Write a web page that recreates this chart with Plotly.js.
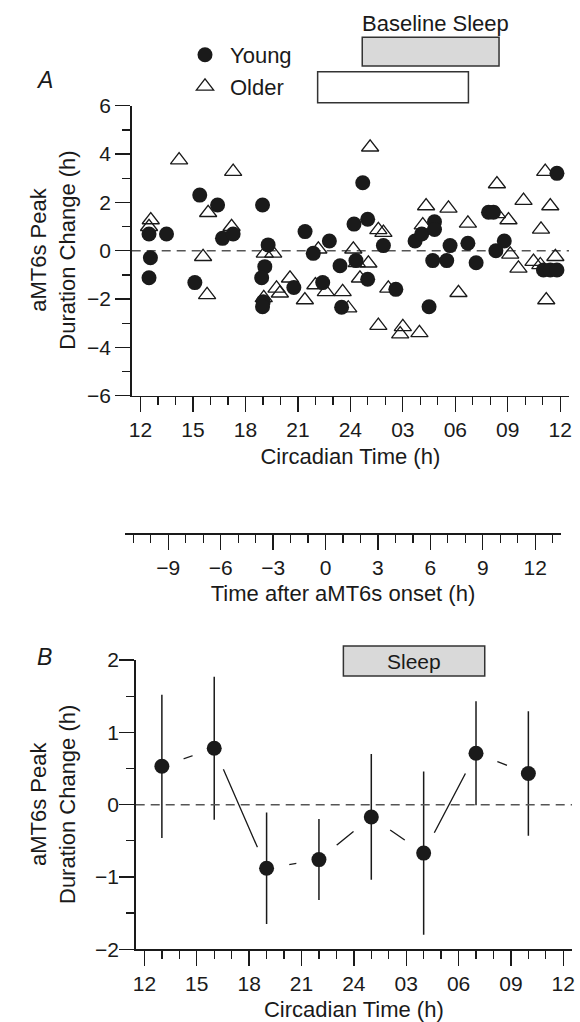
<!DOCTYPE html>
<html><head><meta charset="utf-8">
<script src="https://cdn.plot.ly/plotly-3.0.1.min.js"></script>
<style>html,body{margin:0;padding:0;background:#fff}#chart{width:580px;height:1022px}</style>
</head><body><div id="chart"></div>
<script>
// ---------- data ----------
const youngCT = [12.49,12.57,12.49,13.49,15.39,15.11,16.41,16.69,17.30,18.98,19.30,19.11,18.93,19.02,18.98,21.41,21.88,22.80,22.42,20.77,23.41,23.50,24.21,24.71,24.99,24.32,25.89,24.99,26.60,27.70,28.08,28.81,28.81,28.71,29.51,29.70,28.50,30.72,31.19,31.90,32.18,32.32,32.80,35.81,35.04,35.43,35.81];
const youngVal = [0.69,-0.29,-1.12,0.69,2.30,-1.32,1.89,0.51,0.69,1.89,0.24,-0.66,-1.12,-2.11,-2.32,0.79,-0.11,0.40,-1.32,-1.52,-0.62,-2.34,1.10,2.81,1.30,-0.41,0.21,-1.18,-1.60,0.40,0.69,1.20,0.88,-0.41,-0.41,0.21,-2.32,0.31,-0.50,1.59,1.59,0.00,0.40,3.20,-0.80,-0.80,-0.80];
const olderCT = [14.21,17.30,12.59,12.49,15.87,17.21,15.58,15.81,19.11,19.59,20.55,19.97,19.78,21.40,22.17,22.00,22.60,23.56,19.05,25.13,28.33,29.61,28.14,25.60,25.89,24.17,24.37,25.03,24.55,23.88,26.17,30.72,30.18,32.38,33.90,33.04,32.38,33.14,33.61,34.47,34.86,34.90,35.14,35.43,35.72,35.20,25.60,26.85,27.00,27.95];
const olderVal = [3.75,3.27,1.27,0.99,1.57,0.99,-0.25,-1.83,-0.11,-0.11,-1.14,-1.76,-1.56,-2.04,0.06,-1.42,-1.70,-1.70,-1.95,4.28,1.85,1.75,1.06,0.86,0.75,0.06,-0.50,-0.52,-1.14,-2.38,-1.56,1.13,-1.74,2.76,2.07,1.27,1.52,-0.15,-0.73,-0.45,-0.59,0.88,3.27,1.85,-0.25,-2.04,-3.10,-3.45,-3.15,-3.40];

const binCT = [13,16,19,22,25,28,31,34];
const binMean = [0.53,0.78,-0.88,-0.76,-0.17,-0.67,0.71,0.43];
const binSD = [0.99,0.99,0.77,0.56,0.87,1.13,0.72,0.86];

const ctTickVals = [12,15,18,21,24,27,30,33,36];
const ctTickText = ['12','15','18','21','24','03','06','09','12'];

const sleepYoung = [24.68,32.5];
const sleepOlder = [22.13,30.75];
const sleepB = [23.4,31.5];

// ---------- layout helpers ----------
const W = 580, H = 1022;
const px = v => v / W;
const py = v => 1 - v / H;
const FONT = '"Liberation Sans", Arial, Helvetica, sans-serif';
const INK = '#1a1a1a';

const minorTicks = {ticks:'outside', ticklen:8, tickwidth:1.3, tickcolor:INK, showgrid:false, tickmode:'linear', tick0:0};
function axis(extra){
  return Object.assign({
    showline:true, linecolor:INK, linewidth:1.5,
    ticks:'outside', ticklen:15, tickwidth:1.3, tickcolor:INK,
    showgrid:false, zeroline:false, fixedrange:true,
    tickfont:{family:FONT, size:21, color:INK}
  }, extra);
}
const titleFont = {family:FONT, size:22, color:INK};

const traces = [
  {type:'scatter', mode:'markers', name:'Older', x:olderCT, y:olderVal, xaxis:'x', yaxis:'y',
   marker:{symbol:'triangle-up-open', size:15, color:INK, line:{width:1.3, color:INK}}},
  {type:'scatter', mode:'markers', name:'Young', x:youngCT, y:youngVal, xaxis:'x', yaxis:'y',
   marker:{symbol:'circle', size:15, color:INK}},
  {type:'scatter', mode:'lines', x:binCT, y:binMean, xaxis:'x2', yaxis:'y2', showlegend:false,
   line:{color:INK, width:1.3}},
  {type:'scatter', mode:'markers', x:binCT, y:binMean, xaxis:'x2', yaxis:'y2', showlegend:false,
   marker:{size:46, color:'#ffffff'}},
  {type:'scatter', mode:'markers', x:binCT, y:binMean, xaxis:'x2', yaxis:'y2', showlegend:false,
   marker:{size:15, color:INK},
   error_y:{type:'data', array:binSD, visible:true, width:0, thickness:1.5, color:INK}},
  {type:'scatter', mode:'markers', x:[], y:[], xaxis:'x3', yaxis:'y3', showlegend:false}
];

const layout = {
  width:W, height:H, margin:{l:0,r:0,t:0,b:0},
  paper_bgcolor:'#fff', plot_bgcolor:'rgba(0,0,0,0)',
  font:{family:FONT, size:22, color:INK},
  hovermode:false,
  showlegend:true,
  legend:{x:px(180), y:py(34), xanchor:'left', yanchor:'top', traceorder:'reversed',
          font:{family:FONT, size:22, color:INK}, itemwidth:40, bgcolor:'rgba(0,0,0,0)', borderwidth:0},
  xaxis: axis({domain:[px(131.7), px(569)], range:[11.5,36.5], anchor:'y',
    tickmode:'array', tickvals:ctTickVals, ticktext:ctTickText,
    minor:Object.assign({dtick:1}, minorTicks),
    title:{text:'Circadian Time (h)', font:titleFont, standoff:8}}),
  yaxis: axis({domain:[py(395.7), py(105.7)], range:[-6,6], anchor:'x',
    tickmode:'linear', tick0:0, dtick:2, ticklabelstandoff:0,
    minor:Object.assign({dtick:1}, minorTicks)}),
  xaxis2: axis({domain:[px(135.7), px(572)], range:[11.5,36.5], anchor:'y2',
    tickmode:'array', tickvals:ctTickVals, ticktext:ctTickText,
    minor:Object.assign({dtick:1}, minorTicks),
    title:{text:'Circadian Time (h)', font:titleFont, standoff:8}}),
  yaxis2: axis({domain:[py(949.3), py(660)], range:[-2,2], anchor:'x2',
    tickmode:'linear', tick0:0, dtick:1, ticklabelstandoff:-4,
    minor:Object.assign({dtick:0.5}, minorTicks)}),
  xaxis3: axis({domain:[px(124.6), px(561.4)], range:[-11.5,13.5], anchor:'y3',
    tickmode:'linear', tick0:0, dtick:3,
    minor:Object.assign({dtick:1}, minorTicks),
    title:{text:'Time after aMT6s onset (h)', font:titleFont, standoff:8}}),
  yaxis3: {domain:[py(533), py(533)+0.001], range:[0,1], anchor:'x3', visible:false, fixedrange:true},
  shapes:[
    {type:'line', xref:'x', yref:'y', x0:11.5, x1:36.5, y0:0, y1:0, layer:'below',
     line:{color:'#555', width:1.5, dash:'9px,6px'}},
    {type:'line', xref:'x2', yref:'y2', x0:11.5, x1:36.5, y0:0, y1:0, layer:'above',
     line:{color:'#555', width:1.5, dash:'9px,6px'}},
    {type:'rect', xref:'x', yref:'paper', x0:sleepYoung[0], x1:sleepYoung[1], y0:py(66), y1:py(37.3),
     fillcolor:'#d9d9d9', line:{color:'#333', width:1.5}},
    {type:'rect', xref:'x', yref:'paper', x0:sleepOlder[0], x1:sleepOlder[1], y0:py(102.7), y1:py(71.7),
     fillcolor:'#ffffff', line:{color:'#333', width:1.5}},
    {type:'rect', xref:'x2', yref:'paper', x0:sleepB[0], x1:sleepB[1], y0:py(676), y1:py(646),
     fillcolor:'#d9d9d9', line:{color:'#333', width:1.5}}
  ],
  annotations:[
    {text:'Baseline Sleep', xref:'x', yref:'paper', x:28.85, y:py(23), xanchor:'center', yanchor:'middle',
     showarrow:false, font:titleFont},
    {text:'Sleep', xref:'x2', yref:'paper', x:(sleepB[0]+sleepB[1])/2, y:py(661), xanchor:'center', yanchor:'middle',
     showarrow:false, font:{family:FONT, size:21, color:INK}},
    {text:'<i>A</i>', xref:'paper', yref:'paper', x:px(44), y:py(80), xanchor:'center', yanchor:'middle',
     showarrow:false, font:{family:FONT, size:23, color:INK}},
    {text:'<i>B</i>', xref:'paper', yref:'paper', x:px(44), y:py(657), xanchor:'center', yanchor:'middle',
     showarrow:false, font:{family:FONT, size:23, color:INK}},
    {text:'aMT6s Peak<br>Duration Change (h)', xref:'paper', yref:'paper', x:px(53), y:py(250.7),
     xanchor:'center', yanchor:'middle', textangle:-90, showarrow:false, font:titleFont},
    {text:'aMT6s Peak<br>Duration Change (h)', xref:'paper', yref:'paper', x:px(53), y:py(805),
     xanchor:'center', yanchor:'middle', textangle:-90, showarrow:false, font:titleFont}
  ]
};

Plotly.newPlot('chart', traces, layout, {displayModeBar:false, staticPlot:true});
</script>
</body></html>
